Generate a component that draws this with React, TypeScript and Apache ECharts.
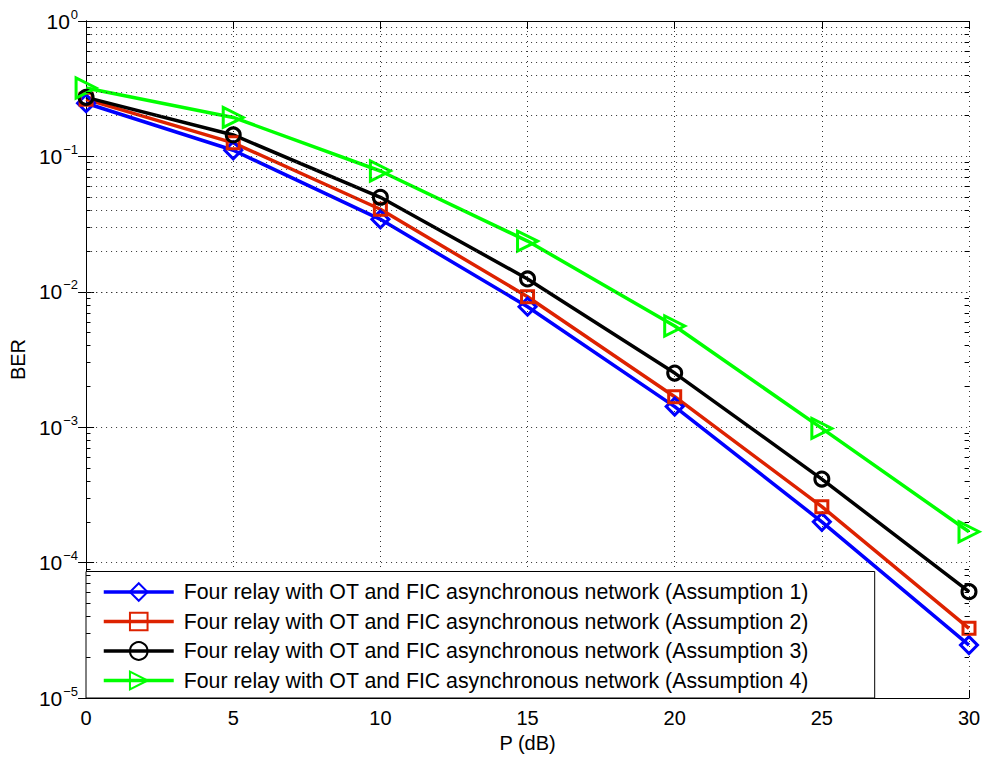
import React, { useEffect, useRef } from "react";
import * as echarts from "echarts";

const pValues = [0, 5, 10, 15, 20, 25, 30];
const ber1 = [0.247, 0.111, 0.0343, 0.00776, 0.00142, 0.0002, 2.46e-5];
const ber2 = [0.264, 0.126, 0.0407, 0.0092, 0.00168, 0.000259, 3.27e-5];
const ber3 = [0.273, 0.144, 0.0499, 0.01244, 0.00251, 0.000414, 6.1e-5];
const ber4 = [0.32, 0.194, 0.078, 0.0237, 0.00559, 0.00098, 0.000169];
const seriesNames = [
  "Four relay with OT and FIC asynchronous network (Assumption 1)",
  "Four relay with OT and FIC asynchronous network (Assumption 2)",
  "Four relay with OT and FIC asynchronous network (Assumption 3)",
  "Four relay with OT and FIC asynchronous network (Assumption 4)",
];
const seriesColors = ["#0000ff", "#dd2200", "#000000", "#00ff00"];
const seriesSymbols = ["diamond", "rect", "circle", "triangle"];
const seriesSymbolSizes = [17, 12, 14, 20];
const seriesSymbolRotate = [0, 0, 0, -90];
const decadeExponents = [-5, -4, -3, -2, -1, 0];
const minorMultipliers = [2, 3, 4, 5, 6, 7, 8, 9];

const FONT = "Liberation Sans, Arial, Helvetica, sans-serif";

export default function App() {
  const ref = useRef<HTMLDivElement>(null);
  useEffect(() => {
    if (!ref.current) return;
    const chart = echarts.init(ref.current, undefined, { renderer: "svg" });
    const allData = [ber1, ber2, ber3, ber4];

    const minorValues: number[] = [];
    decadeExponents.slice(0, -1).forEach((e) => {
      minorMultipliers.forEach((m) => minorValues.push(m * Math.pow(10, e)));
    });

    const dotted = { type: [1, 4] as any, color: "#333", width: 1 };
    const tickStyle = { type: "solid" as any, color: "#000", width: 1 };
    const minorTickLen = 0.15;

    const gridLines: any[] = minorValues.map((v) => ({ yAxis: v, lineStyle: dotted }));
    minorValues.forEach((v) => {
      gridLines.push([
        { coord: [0, v], lineStyle: tickStyle },
        { coord: [minorTickLen, v] },
      ]);
      gridLines.push([
        { coord: [30 - minorTickLen, v], lineStyle: tickStyle },
        { coord: [30, v] },
      ]);
    });

    const series: any[] = [
      {
        name: "__grid",
        type: "line",
        data: [],
        silent: true,
        z: 1,
        markLine: {
          silent: true,
          symbol: ["none", "none"],
          label: { show: false },
          emphasis: { disabled: true },
          lineStyle: dotted,
          data: gridLines,
        },
      },
    ];
    allData.forEach((arr, i) => {
      series.push({
        name: seriesNames[i],
        type: "line",
        data: pValues.map((p, j) => [p, arr[j]]),
        symbol: seriesSymbols[i],
        symbolSize: seriesSymbolSizes[i],
        symbolRotate: seriesSymbolRotate[i],
        showAllSymbol: true,
        z: 3,
        lineStyle: { color: seriesColors[i], width: 3.5 },
        itemStyle: {
          color: "rgba(0,0,0,0)",
          borderColor: seriesColors[i],
          borderWidth: 3,
        },
        emphasis: { disabled: true },
      });
    });

    const yLabelFmt = (v: number) => {
      const e = Math.round(Math.log10(v));
      const s = e < 0 ? "\u2212" + Math.abs(e) : String(e);
      return "{b|10}{s|" + s + "}";
    };

    chart.setOption({
      animation: false,
      textStyle: { fontFamily: FONT },
      grid: { left: 86, right: 16, top: 21, bottom: 60, containLabel: false },
      xAxis: [
        {
          type: "value",
          min: 0,
          max: 30,
          interval: 5,
          name: "P (dB)",
          nameLocation: "middle",
          nameGap: 33,
          nameTextStyle: { fontSize: 20, color: "#000", fontFamily: FONT },
          axisLine: { show: true, lineStyle: { color: "#000", width: 1 } },
          axisTick: { show: true, inside: true, length: 8, lineStyle: { color: "#000" } },
          axisLabel: { fontSize: 20, color: "#000", margin: 10, fontFamily: FONT },
          splitLine: { show: true, lineStyle: dotted },
        },
        {
          type: "value",
          position: "top",
          min: 0,
          max: 30,
          interval: 5,
          axisLine: { show: true, lineStyle: { color: "#000", width: 1 } },
          axisTick: { show: true, inside: true, length: 8, lineStyle: { color: "#000" } },
          axisLabel: { show: false },
          splitLine: { show: false },
        },
      ],
      yAxis: [
        {
          type: "log",
          logBase: 10,
          min: 1e-5,
          max: 1,
          name: "BER",
          nameLocation: "middle",
          nameGap: 58,
          nameTextStyle: { fontSize: 20, color: "#000", fontFamily: FONT },
          axisLine: { show: true, lineStyle: { color: "#000", width: 1 } },
          axisTick: { show: true, inside: true, length: 8, lineStyle: { color: "#000" } },
          axisLabel: {
            color: "#000",
            margin: 8,
            formatter: yLabelFmt,
            rich: {
              b: { fontSize: 21, fontFamily: FONT, color: "#000" },
              s: {
                fontSize: 13,
                fontFamily: FONT,
                color: "#000",
                verticalAlign: "bottom",
                padding: [0, 0, 14, 1],
              },
            },
          },
          splitLine: { show: true, lineStyle: dotted },
        },
        {
          type: "log",
          logBase: 10,
          min: 1e-5,
          max: 1,
          position: "right",
          axisLine: { show: true, lineStyle: { color: "#000", width: 1 } },
          axisTick: { show: true, inside: true, length: 8, lineStyle: { color: "#000" } },
          axisLabel: { show: false },
          splitLine: { show: false },
        },
      ],
      legend: {
        data: seriesNames,
        orient: "vertical",
        left: 86,
        bottom: 60,
        itemWidth: 70,
        itemHeight: 22,
        itemGap: 8.5,
        padding: [10, 66, 7, 16],
        backgroundColor: "#fff",
        borderColor: "#000",
        borderWidth: 1,
        borderRadius: 0,
        selectedMode: false,
        lineStyle: { width: 3.5 },
        textStyle: { fontSize: 21.3, color: "#000", fontFamily: FONT, padding: [0, 0, 0, 5] },
      },
      series,
    });
    return () => chart.dispose();
  }, []);
  return (
    <div
      ref={ref}
      style={{ position: "fixed", left: 0, top: 0, width: 985, height: 758, background: "#fff" }}
    />
  );
}
